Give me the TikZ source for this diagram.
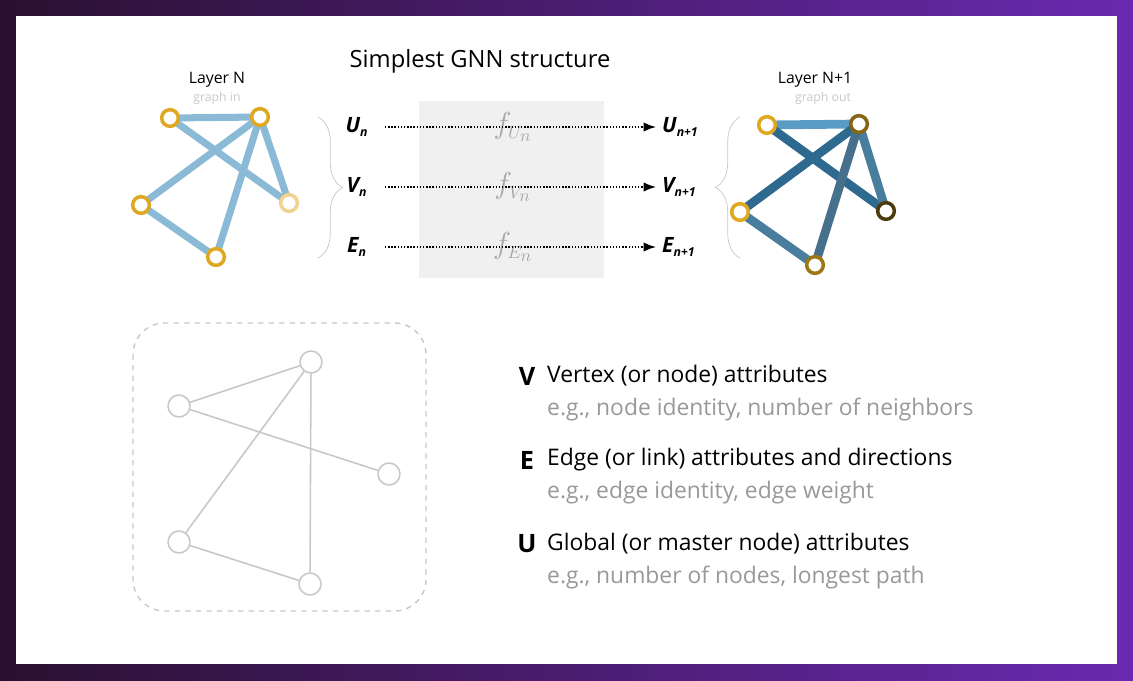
\documentclass[tikz,border=0pt]{standalone}
\usepackage{fontspec}
\setmainfont{Open Sans}
\usetikzlibrary{arrows.meta,decorations.pathreplacing}
\definecolor{frameL}{HTML}{2A1030}
\definecolor{frameR}{HTML}{6A2AB0}
\definecolor{ring}{HTML}{E0A820}
\definecolor{edgein}{HTML}{5A9CC4}
\definecolor{edgeout}{HTML}{2E6A90}
\definecolor{lightgrey}{HTML}{C8C8C8}
\tikzset{
  vtx/.style={circle,draw=ring,line width=2pt,fill=white,minimum size=9.5pt,inner sep=0pt},
  gvtx/.style={circle,draw=lightgrey,line width=0.9pt,fill=white,minimum size=12.5pt,inner sep=0pt},
  ein/.style={edgein!70,line width=4pt},
  eout/.style={edgeout,line width=5pt},
  flow/.style={densely dotted,line width=0.8pt,-{Latex[length=7pt]}},
  lbl/.style={font=\bfseries\itshape\large},
  legend/.style={anchor=west,font=\fontsize{13}{15}\selectfont},
}
\begin{document}
\begin{tikzpicture}[x=0.02cm,y=-0.02cm]
  \shade [left color=frameL,right color=frameR] (0,0) rectangle (1133,680);
  \fill [white] (16,16) rectangle (1117,664);
  \useasboundingbox (0,0) rectangle (1133,680);
  % titles
  \node (title) at (480,61) {\fontsize{13.5}{16}\selectfont Simplest GNN structure};
  \node (layern) at (217,80) {\small Layer N};
  \node [text=lightgrey] (gin) at (217,98) {\scriptsize graph in};
  \node (layerm) at (815,80) {\small Layer N+1};
  \node [text=lightgrey] (gout) at (823,98) {\scriptsize graph out};
  % input graph
  \coordinate (ia) at (170,118);
  \coordinate (ib) at (260,117);
  \coordinate (ic) at (141,205);
  \coordinate (id) at (289,203);
  \coordinate (if) at (216,257);
  \foreach \s/\t in {ia/ib,ia/id,ib/ic,ib/id,ib/if,ic/if}
    \draw [ein] (\s) -- (\t);
  \foreach \n/\c in {ia/ring,ib/ring,ic/ring,id/ring!50,if/ring}
    \node [vtx,draw=\c] at (\n) {};
  % output graph
  \coordinate (oa) at (767,125);
  \coordinate (ob) at (859,124);
  \coordinate (oc) at (740,212);
  \coordinate (od) at (886,211);
  \coordinate (of) at (815,265);
  \draw [edgein,line width=5pt] (oa) -- (ob);
  \draw [eout] (oa) -- (od);
  \draw [eout] (ob) -- (oc);
  \draw [edgein!80!black,line width=5pt] (ob) -- (od);
  \draw [edgeout!70!gray,line width=5pt] (ob) -- (of);
  \draw [edgein!80!black,line width=5pt] (oc) -- (of);
  \foreach \n/\c in {oa/ring,ob/ring!60!black,oc/ring,od/ring!35!black,of/ring!70!black}
    \node [vtx,draw=\c] at (\n) {};
  % braces
  \draw [lightgrey,decorate,decoration={brace,amplitude=14pt}] (318,117) -- (318,258);
  \draw [lightgrey,decorate,decoration={brace,amplitude=14pt}] (740,258) -- (740,117);
  % update functions
  \fill [black!6] (419,101) rectangle (604,278);
  \foreach \v/\y in {U/127,V/187,E/247} {
    \node [lbl] (in\v) at (357,\y) {\v\textsubscript{\scriptsize n}};
    \node [lbl,anchor=west] (out\v) at (656,\y) {\v\textsubscript{\scriptsize n+1}};
    \node [text=black!35] (f\v) at (513,\y) {\LARGE$f_{\scriptscriptstyle\v_n}$};
    \draw [flow] (385,\y) -- (out\v.west);
  }
  % bottom graph
  \draw [lightgrey,dashed,rounded corners=18pt,line width=0.8pt] (133,323) rectangle (426,611);
  \node [gvtx] (ga) at (311,362) {};
  \node [gvtx] (gb) at (179,406) {};
  \node [gvtx] (gc) at (389,474) {};
  \node [gvtx] (gd) at (179,542) {};
  \node [gvtx] (ge) at (310,584) {};
  \foreach \s/\t in {gb/ga,gb/gc,ga/gd,ga/ge,gd/ge}
    \draw [lightgrey,line width=0.9pt] (\s) -- (\t);
  % legend
  \foreach \k/\y/\a/\b in {V/376/{Vertex (or node) attributes}/{e.g., node identity, number of neighbors},
                           E/460/{Edge (or link) attributes and directions}/{e.g., edge identity, edge weight},
                           U/544/{Global (or master node) attributes}/{e.g., number of nodes, longest path}} {
    \node [font=\Large\bfseries] (key\k) at (527,\y) {\k};
    \node [legend] (txt\k) at (541,\y) {\a};
    \node [legend,text=black!40] (ex\k) at (541,\y+33) {\b};
  }
\end{tikzpicture}
\end{document}
